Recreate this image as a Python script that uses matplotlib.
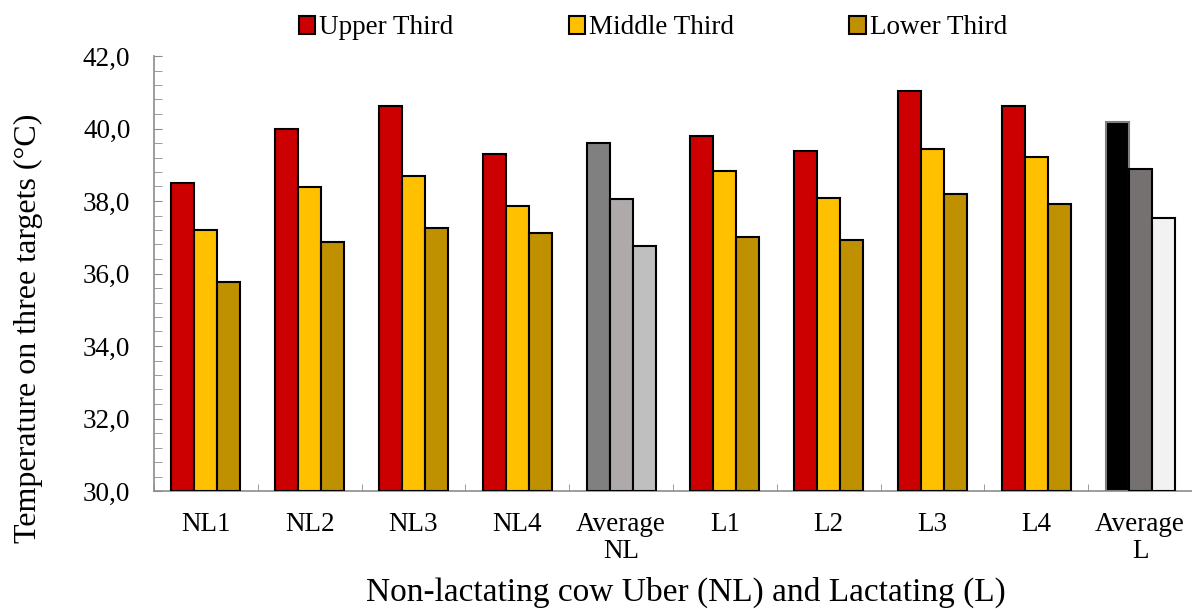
import matplotlib.pyplot as plt
import numpy as np
from matplotlib.ticker import MultipleLocator, FuncFormatter
from matplotlib.patches import Patch

plt.rcParams['font.family'] = ['Liberation Serif', 'DejaVu Serif']

categories = ["NL1", "NL2", "NL3", "NL4", "Average\nNL", "L1", "L2", "L3", "L4", "Average\nL"]
upper = [38.51, 39.99, 40.61, 39.31, 39.60, 39.78, 39.39, 41.03, 40.63, 40.19]
middle = [37.20, 38.40, 38.69, 37.87, 38.05, 38.83, 38.08, 39.43, 39.22, 38.89]
lower = [35.77, 36.87, 37.26, 37.13, 36.76, 37.02, 36.92, 38.20, 37.93, 37.52]
series_names = ["Upper Third", "Middle Third", "Lower Third"]

base_colors = ["#CC0000", "#FFC000", "#BF9000"]
avg_nl_colors = ["#808080", "#AEAAAA", "#BFBFBF"]
avg_l_colors = ["#000000", "#767171", "#F2F2F2"]

fig = plt.figure(figsize=(11.92, 6.09), dpi=100)
ax = fig.add_axes([154 / 1192, 1 - 491 / 609, (1192 - 154) / 1192, (491 - 56) / 609])

x = np.arange(len(categories))
w = 0.222
for k, vals in enumerate([upper, middle, lower]):
    colors = []
    edges = []
    for i in range(len(categories)):
        if categories[i] == "Average\nNL":
            colors.append(avg_nl_colors[k])
        elif categories[i] == "Average\nL":
            colors.append(avg_l_colors[k])
        else:
            colors.append(base_colors[k])
        edges.append("#7f7f7f" if colors[-1] == "#000000" else "black")
    ax.bar(x + (k - 1) * w, np.array(vals) - 30, bottom=30, width=w,
           color=colors, edgecolor=edges, linewidth=1.5, zorder=3)

ax.set_xlim(-0.5, 9.5)
ax.set_ylim(30, 42)
ax.yaxis.set_major_locator(MultipleLocator(2))
ax.yaxis.set_minor_locator(MultipleLocator(0.4))
ax.yaxis.set_major_formatter(FuncFormatter(lambda v, p: f"{v:.1f}".replace(".", ",")))
ax.set_xticks(x)
ax.set_xticks(np.arange(-0.5, 10, 1), minor=True)
ax.set_xticklabels(categories, fontsize=19.5, linespacing=1.12)

for s in ["top", "right"]:
    ax.spines[s].set_visible(False)
for s in ["left", "bottom"]:
    ax.spines[s].set_color("#8c8c8c")
    ax.spines[s].set_linewidth(1.2)

ax.tick_params(axis="y", which="both", direction="in", color="#8c8c8c", length=6,
               labelsize=19.5, pad=17)
ax.tick_params(axis="x", which="both", direction="in", color="#8c8c8c", length=5,
               pad=15)

fig.text(28 / 1192, 1 - 328 / 609, "Temperature on three targets (°C)", fontsize=23,
         rotation=90, ha="center", va="center")
fig.text(686 / 1192, 1 - 592 / 609, "Non-lactating cow Uber (NL) and Lactating (L)",
         fontsize=24, ha="center", va="center")

handles = [Patch(facecolor=c, edgecolor="black", linewidth=1.5) for c in base_colors]
fig.legend(handles, series_names, loc="center", bbox_to_anchor=(653 / 1192, 1 - 28 / 609),
           ncol=3, frameon=False, fontsize=19.5, handlelength=0.6, handleheight=0.6,
           handletextpad=0.15, columnspacing=4.25)

fig.savefig("out.png", dpi=100)
